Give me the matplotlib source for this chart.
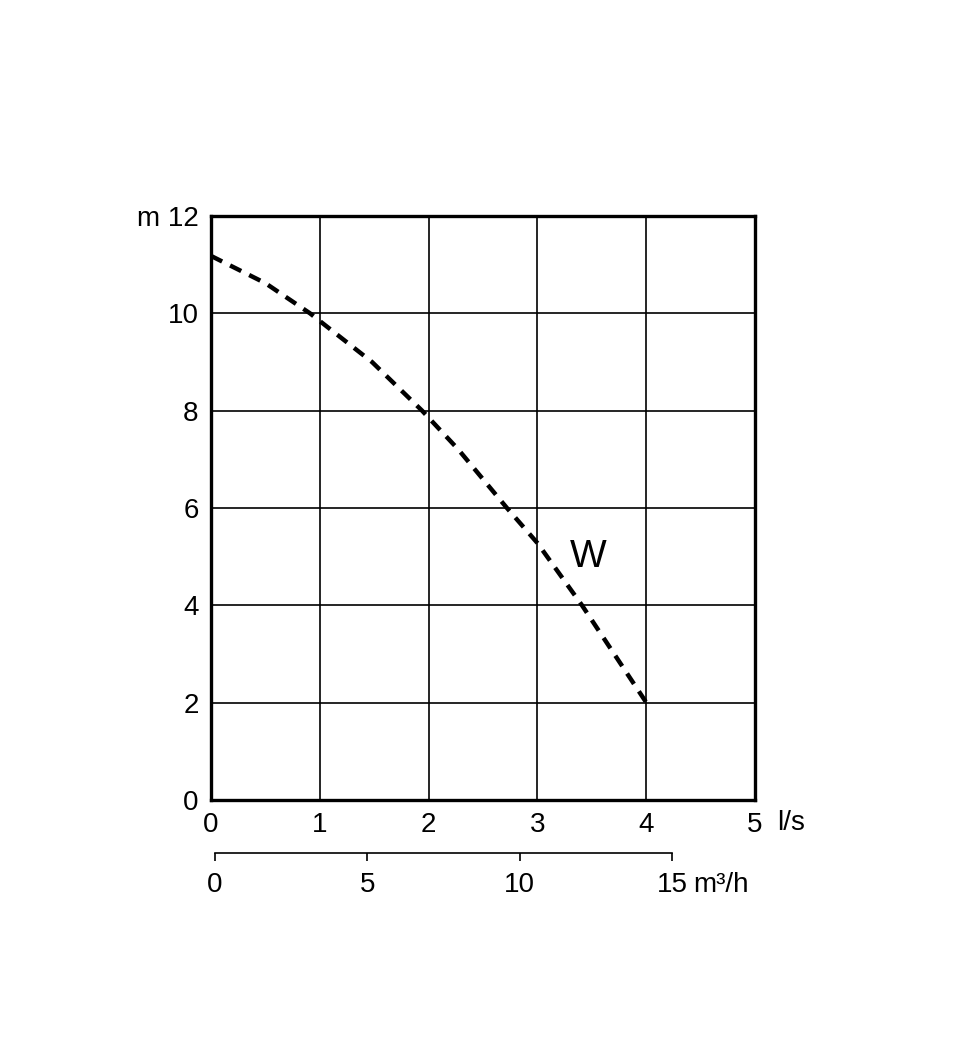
import matplotlib.pyplot as plt

plt.rcParams['font.family'] = ['Liberation Sans', 'DejaVu Sans']

# Courbe W : débit (l/s) -> hauteur (m)
debit = [0, 0.5, 0.91, 1.48, 1.94, 2.27, 2.72, 3.0, 3.41, 4.04]
hauteur = [11.18, 10.62, 10.0, 9.0, 8.0, 7.21, 6.0, 5.28, 4.0, 1.87]

x_ticks = [0, 1, 2, 3, 4, 5]
y_ticks = [0, 2, 4, 6, 8, 10, 12]
y_labels = ['0', '2', '4', '6', '8', '10', 'm 12']
m3h_ticks = [0, 5, 10, 15]

W, H = 980, 1060
fs = 20
fig = plt.figure(figsize=(W / 100, H / 100), dpi=100)
ax = fig.add_axes([211 / W, 1 - 800 / H, 544 / W, 584 / H])

ax.plot(debit, hauteur, color='black', lw=3.2, linestyle=(0, (2.8, 2.0)))
ax.text(3.47, 5.0, 'W', fontsize=28, ha='center', va='center')

ax.set_xlim(0, 5)
ax.set_ylim(0, 12)
ax.set_xticks(x_ticks)
ax.set_yticks(y_ticks)
ax.set_yticklabels(y_labels)
ax.grid(True, color='black', lw=1.2)
ax.tick_params(length=0, labelsize=fs, pad=9)
for s in ax.spines.values():
    s.set_linewidth(2.4)
ax.text(1.04, -0.04, 'l/s', transform=ax.transAxes, fontsize=fs, ha='left', va='center')

# Deuxième échelle en m3/h
x0, x15 = 215, 672
ax2 = fig.add_axes([x0 / W, 1 - 853 / H, (x15 - x0) / W, 0.001])
ax2.set_xlim(0, 15)
ax2.set_xticks(m3h_ticks)
ax2.set_yticks([])
for k in ['top', 'left', 'right']:
    ax2.spines[k].set_visible(False)
ax2.spines['bottom'].set_linewidth(1.2)
ax2.patch.set_alpha(0)
ax2.tick_params(length=6, width=1.2, labelsize=fs, pad=8)
ax2.annotate('m³/h', xy=(15.7, 0), xycoords=('data', 'axes fraction'),
             xytext=(0, -14), textcoords='offset points',
             fontsize=fs, ha='left', va='top')

fig.savefig('out.png', dpi=100)
